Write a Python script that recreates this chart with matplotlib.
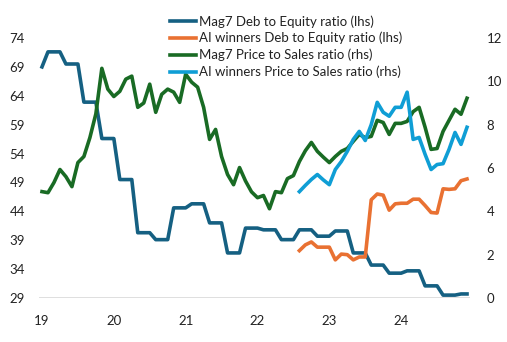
import numpy as np
import matplotlib
matplotlib.use('Agg')
import matplotlib.pyplot as plt

plt.rcParams['font.family'] = ['Lato', 'DejaVu Sans']

# monthly, Jan 2019 .. Dec 2024
months = np.arange(72)
year_labels = ['19', '20', '21', '22', '23', '24']

mag7_de = [69.0, 71.6, 71.6, 71.6, 69.5, 69.5, 69.5, 62.9, 62.9, 62.9,
           56.6, 56.6, 56.6, 49.5, 49.5, 49.5, 40.3, 40.3, 40.3, 39.1,
           39.1, 39.1, 44.6, 44.6, 44.6, 45.3, 45.3, 45.3, 42.0, 42.0,
           42.0, 36.8, 36.8, 36.8, 41.1, 41.1, 41.1, 40.8, 40.8, 40.8,
           39.1, 39.1, 39.1, 40.8, 40.8, 40.8, 39.7, 39.7, 39.7, 40.6,
           40.6, 40.6, 36.8, 36.8, 36.8, 34.7, 34.7, 34.7, 33.3, 33.3,
           33.3, 33.7, 33.7, 33.7, 31.1, 31.1, 31.1, 29.5, 29.5, 29.5,
           29.7, 29.7]

mag7_ps = [4.91, 4.86, 5.33, 5.93, 5.6, 5.14, 6.25, 6.53, 7.4, 8.5,
           10.6, 9.64, 9.3, 9.54, 10.1, 10.24, 8.8, 9.0, 9.87, 8.57,
           9.4, 9.64, 9.5, 9.03, 10.33, 9.96, 9.73, 8.8, 7.32, 7.78,
           6.53, 5.7, 5.23, 6.02, 5.4, 4.9, 4.63, 4.73, 4.12, 4.91,
           4.86, 5.51, 5.65, 6.3, 6.8, 7.18, 6.77, 6.5, 6.25, 6.53,
           6.77, 6.9, 7.23, 7.55, 7.4, 7.46, 8.2, 8.1, 7.55, 8.06,
           8.06, 8.15, 8.6, 8.8, 7.88, 6.86, 6.9, 7.69, 8.2, 8.71,
           8.48, 9.22]

nan = np.nan
ai_de = [nan] * 43 + [37.2, 38.2, 38.7, 37.8, 37.8, 37.8, 35.6, 36.6, 36.5,
                      35.6, 36.1, 36.1, 46.0, 47.0, 46.8, 44.2, 45.3, 45.4,
                      45.4, 46.1, 46.1, 45.0, 43.8, 43.7, 47.9, 47.8, 47.9,
                      49.3, 49.6]

ai_ps = [nan] * 43 + [4.91, 5.2, 5.47, 5.7, 5.45, 5.23, 5.93, 6.3, 6.77,
                      7.32, 7.69, 7.27, 8.0, 9.03, 8.57, 8.39, 8.8, 8.8,
                      9.5, 7.32, 7.41, 6.63, 5.93, 6.16, 6.2, 6.86, 7.64,
                      7.09, 7.88]

c_dblue = '#156082'
c_orange = '#E97132'
c_green = '#196B24'
c_lblue = '#0F9ED5'
txt = '#222222'

fig = plt.figure(figsize=(5.07, 3.42), dpi=100)
ax = fig.add_axes([39/507, 44/342, 431/507, 260/342])
ax2 = ax.twinx()

lw = 2.6
l1, = ax.plot(months, mag7_de, color=c_dblue, lw=lw, zorder=3)
l2, = ax.plot(months, ai_de, color=c_orange, lw=lw, zorder=3)
l3, = ax2.plot(months, mag7_ps, color=c_green, lw=lw)
l4, = ax2.plot(months, ai_ps, color=c_lblue, lw=lw)

ax.set_xlim(-0.5, 71.5)
ax.set_ylim(29, 74)
ax2.set_ylim(0, 12)
ax.set_yticks(np.arange(29, 75, 5))
ax2.set_yticks(np.arange(0, 13, 2))
ax.set_xticks(np.arange(0, 72, 12))
ax.set_xticklabels(year_labels)

for a in (ax, ax2):
    for s in a.spines.values():
        s.set_visible(False)
    a.tick_params(length=0, labelsize=9.5, colors=txt)
ax.tick_params(axis='x', pad=12)
ax.tick_params(axis='y', pad=10)
ax2.tick_params(axis='y', pad=12)
ax.axhline(29, color='#D9D9D9', lw=1.2, zorder=1)

fig.legend([l1, l2, l3, l4],
           ['Mag7 Deb to Equity ratio (lhs)', 'AI winners Deb to Equity ratio (lhs)',
            'Mag7 Price to Sales ratio (rhs)', 'AI winners Price to Sales ratio (rhs)'],
           loc='upper left', bbox_to_anchor=(170/507, 1 - 15/342), frameon=False,
           fontsize=9.5, handlelength=2.0, handletextpad=0.2, labelspacing=0.33,
           borderpad=0, borderaxespad=0, labelcolor=txt)

fig.savefig('out.png', dpi=100)
